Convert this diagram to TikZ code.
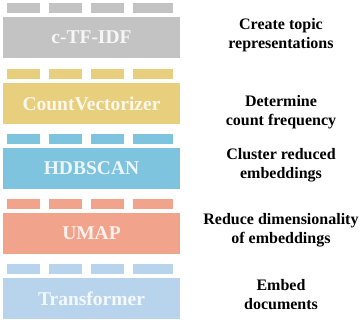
\documentclass[tikz,border=0pt]{standalone}
\usepackage{fontspec}
\setmainfont{Liberation Serif}
\usepackage{xcolor}
\definecolor{tfgray}{HTML}{C3C3C3}
\definecolor{cvyellow}{HTML}{E8CF7E}
\definecolor{hdblue}{HTML}{7FC4DE}
\definecolor{umsalmon}{HTML}{F1A38B}
\definecolor{trblue}{HTML}{B8D4EC}
\tikzset{
  layerbox/.style={minimum width=177pt,minimum height=41pt,inner sep=0pt,
                   text=white,text opacity=0.85,
                   font=\fontsize{19.5}{22}\selectfont\bfseries},
  steptext/.style={align=center,inner sep=0pt,
                   font=\fontsize{16}{19}\selectfont\bfseries}
}
\newcommand{\tokenbars}[2]{%
  \foreach \xa/\xb in {7/40,49/82,91/124,133/173}
    \fill[#2] (\xa,#1-14) rectangle (\xb,#1-4);
}
\begin{document}
\begin{tikzpicture}[x=1pt,y=-1pt]
  \path[use as bounding box] (0,0) rectangle (360,324);
  % layers, top to bottom
  \tokenbars{17}{tfgray}
  \node[layerbox,fill=tfgray] (ctfidf) at (91.5,37.5) {c-TF-IDF};
  \tokenbars{83}{cvyellow}
  \node[layerbox,fill=cvyellow] (countvec) at (91.5,103.5) {CountVectorizer};
  \tokenbars{148}{hdblue}
  \node[layerbox,fill=hdblue] (hdbscan) at (91.5,168.5) {HDBSCAN};
  \tokenbars{213}{umsalmon}
  \node[layerbox,fill=umsalmon] (umap) at (91.5,233.5) {UMAP};
  \tokenbars{278}{trblue}
  \node[layerbox,fill=trblue] (transformer) at (91.5,298.5) {Transformer};
  % what each layer does
  \node[steptext] (ctfidfstep) at (281,35) {Create topic\\representations};
  \node[steptext] (countvecstep) at (281,112) {Determine\\count frequency};
  \node[steptext] (hdbscanstep) at (281,165) {Cluster reduced\\embeddings};
  \node[steptext] (umapstep) at (281,230) {Reduce dimensionality\\of embeddings};
  \node[steptext] (transformerstep) at (281,295) {Embed\\documents};
\end{tikzpicture}
\end{document}
